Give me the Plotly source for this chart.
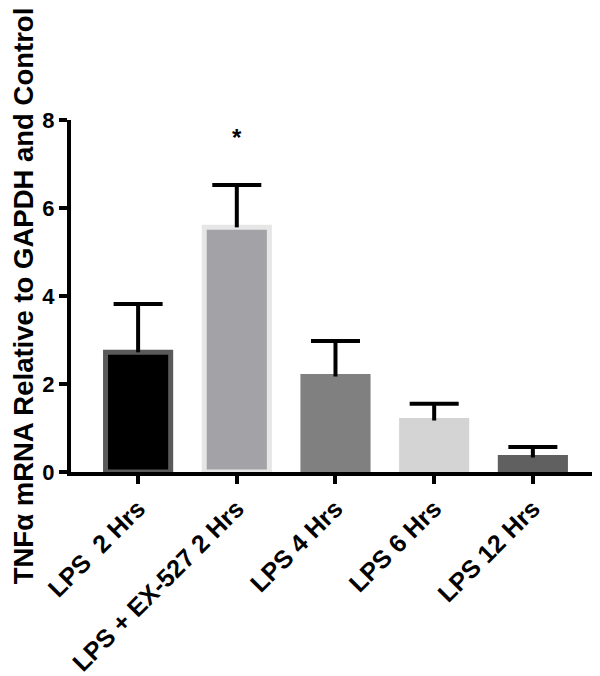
import plotly.graph_objects as go

categories = ["LPS  2 Hrs", "LPS + EX-527 2 Hrs", "LPS 4 Hrs", "LPS 6 Hrs", "LPS 12 Hrs"]
means = [2.72, 5.56, 2.17, 1.17, 0.33]
errors = [1.10, 0.96, 0.81, 0.38, 0.24]
fill_colors = ["#000000", "#a3a3a7", "#808080", "#d4d4d4", "#606060"]
line_colors = ["#5a5a5a", "#e6e6e6", "#808080", "#d4d4d4", "#606060"]
y_ticks = [0, 2, 4, 6, 8]

FONT = "Liberation Sans, Arial, sans-serif"

xs = list(range(len(categories)))
tops = [m + e for m, e in zip(means, errors)]

fig = go.Figure()
fig.add_trace(go.Bar(
    x=xs,
    y=means,
    width=0.66,
    marker=dict(color=fill_colors, line=dict(color=line_colors, width=5)),
    showlegend=False,
))

# upper error bars: stems
stem_x, stem_y = [], []
for x, m, t in zip(xs, means, tops):
    stem_x += [x, x, None]
    stem_y += [m, t, None]
fig.add_trace(go.Scatter(x=stem_x, y=stem_y, mode="lines",
                         line=dict(color="black", width=4),
                         showlegend=False, hoverinfo="skip"))
# caps
fig.add_trace(go.Scatter(x=xs, y=tops, mode="markers",
                         marker=dict(symbol="line-ew", size=35,
                                     line=dict(color="black", width=4)),
                         showlegend=False, hoverinfo="skip"))

fig.add_annotation(x=1, y=7.6, text="<b>*</b>", showarrow=False,
                   font=dict(family=FONT, size=24, color="black"),
                   yanchor="middle")

fig.update_layout(
    width=600, height=676,
    margin=dict(l=63, r=10, t=112, b=212),
    plot_bgcolor="white", paper_bgcolor="white",
    font=dict(family=FONT, color="black"),
    xaxis=dict(
        range=[-0.68, 4.66],
        tickmode="array",
        tickvals=xs,
        ticktext=[f"<b>{c}</b>" for c in categories],
        tickangle=-45,
        tickfont=dict(size=25, family=FONT, color="black"),
        showline=True, linecolor="black", linewidth=4,
        ticks="outside", ticklen=8, tickwidth=4, tickcolor="black",
        showgrid=False, zeroline=False, automargin=False,
    ),
    yaxis=dict(
        range=[0, 8],
        tickmode="array",
        tickvals=y_ticks,
        ticktext=[f"<b>{t}</b>" for t in y_ticks],
        tickfont=dict(size=22, family=FONT, color="black"),
        showline=True, linecolor="black", linewidth=4,
        ticks="outside", ticklen=8, tickwidth=4, tickcolor="black",
        showgrid=False, zeroline=False, automargin=False,
        title=dict(text="<b>TNFα mRNA Relative to GAPDH and Control</b>",
                   font=dict(size=27.5, family=FONT, color="black"), standoff=20),
    ),
)

fig.write_html("out.html")
